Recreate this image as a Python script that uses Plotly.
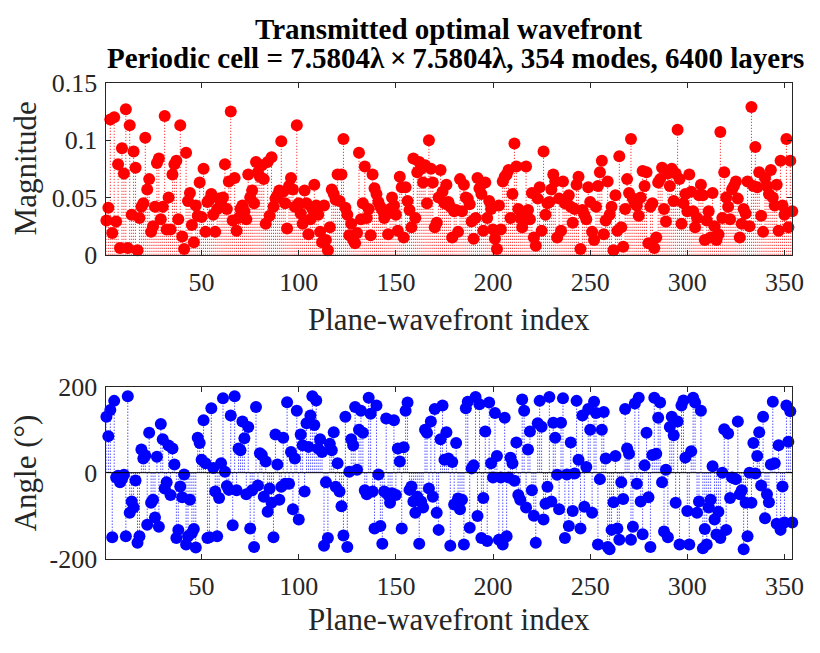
import plotly.graph_objects as go

# ---------------- data ----------------
index = list(range(1, 355))

magnitude = [
    0.030, 0.041, 0.118, 0.019, 0.120, 0.029, 0.079, 0.006, 0.093, 0.071,
    0.127, 0.006, 0.113, 0.035, 0.090, 0.076, 0.004, 0.032, 0.042, 0.045,
    0.102, 0.057, 0.066, 0.020, 0.025, 0.042, 0.080, 0.084, 0.031, 0.042,
    0.121, 0.022, 0.050, 0.022, 0.070, 0.079, 0.082, 0.031, 0.113, 0.016,
    0.005, 0.089, 0.047, 0.054, 0.026, 0.011, 0.043, 0.034, 0.063, 0.033,
    0.075, 0.020, 0.046, 0.048, 0.053, 0.035, 0.020, 0.040, 0.049, 0.045,
    0.050, 0.079, 0.040, 0.064, 0.125, 0.030, 0.067, 0.021, 0.032, 0.040,
    0.043, 0.038, 0.031, 0.070, 0.050, 0.056, 0.045, 0.081, 0.072, 0.068,
    0.078, 0.066, 0.027, 0.081, 0.034, 0.085, 0.042, 0.049, 0.052, 0.056,
    0.099, 0.055, 0.045, 0.023, 0.060, 0.067, 0.057, 0.042, 0.113, 0.045,
    0.036, 0.027, 0.056, 0.045, 0.018, 0.031, 0.040, 0.061, 0.043, 0.035,
    0.020, 0.011, 0.043, 0.013, 0.004, 0.024, 0.057, 0.053, 0.048, 0.070,
    0.047, 0.070, 0.101, 0.041, 0.035, 0.017, 0.027, 0.013, 0.010, 0.019,
    0.089, 0.031, 0.045, 0.077, 0.032, 0.040, 0.017, 0.070, 0.058, 0.053,
    0.046, 0.042, 0.039, 0.032, 0.035, 0.018, 0.040, 0.050, 0.043, 0.035,
    0.021, 0.068, 0.059, 0.015, 0.059, 0.047, 0.039, 0.024, 0.084, 0.032,
    0.072, 0.081, 0.075, 0.063, 0.078, 0.045, 0.100, 0.075, 0.063, 0.024,
    0.028, 0.050, 0.074, 0.055, 0.045, 0.061, 0.046, 0.042, 0.015, 0.038,
    0.039, 0.020, 0.066, 0.038, 0.061, 0.050, 0.049, 0.044, 0.029, 0.014,
    0.032, 0.067, 0.058, 0.053, 0.021, 0.063, 0.032, 0.047, 0.040, 0.022,
    0.014, 0.005, 0.043, 0.022, 0.064, 0.068, 0.070, 0.074, 0.032, 0.053,
    0.097, 0.077, 0.040, 0.032, 0.024, 0.030, 0.077, 0.039, 0.031, 0.054,
    0.015, 0.008, 0.049, 0.059, 0.021, 0.090, 0.035, 0.045, 0.046, 0.057,
    0.070, 0.064, 0.015, 0.049, 0.021, 0.064, 0.045, 0.049, 0.052, 0.042,
    0.028, 0.040, 0.061, 0.068, 0.005, 0.039, 0.035, 0.031, 0.059, 0.046,
    0.020, 0.013, 0.042, 0.060, 0.072, 0.082, 0.018, 0.030, 0.064, 0.035,
    0.042, 0.004, 0.052, 0.021, 0.086, 0.024, 0.007, 0.040, 0.066, 0.054,
    0.101, 0.049, 0.045, 0.043, 0.034, 0.050, 0.073, 0.060, 0.072, 0.010,
    0.042, 0.045, 0.006, 0.015, 0.063, 0.066, 0.076, 0.040, 0.029, 0.071,
    0.060, 0.075, 0.047, 0.071, 0.109, 0.066, 0.027, 0.045, 0.053, 0.038,
    0.070, 0.055, 0.038, 0.024, 0.032, 0.052, 0.061, 0.052, 0.013, 0.030,
    0.038, 0.015, 0.054, 0.025, 0.013, 0.018, 0.107, 0.032, 0.072, 0.050,
    0.042, 0.031, 0.057, 0.060, 0.064, 0.049, 0.015, 0.027, 0.040, 0.036,
    0.064, 0.025, 0.129, 0.060, 0.094, 0.059, 0.072, 0.034, 0.020, 0.067,
    0.060, 0.053, 0.074, 0.050, 0.043, 0.061, 0.021, 0.082, 0.043, 0.035,
    0.101, 0.024, 0.082, 0.038,
]

angle_deg = [
    130, 85, 146, -150, 167, -11, -7, -22, -15, -5,
    -148, 178, -93, -67, -81, -18, -163, -148, 54, 33,
    40, -121, 93, -70, -63, -104, 37, -126, 113, 78,
    -37, -22, 63, -52, 56, 19, -152, -133, -32, -57,
    -4, -167, -148, -63, -140, -131, -174, 81, 69, 30,
    122, 22, -152, -150, 150, 11, -44, -148, -59, 22,
    173, 2, -31, -40, 133, -122, 178, -41, 56, 52,
    119, 80, -50, 106, -130, -41, -173, 153, -30, 45,
    41, -56, 26, -91, -37, -70, -150, 89, 19, -63,
    -33, 81, -26, 164, -26, 48, -85, 33, 144, -109,
    89, 64, -44, 115, 60, 133, 178, 111, 168, 56,
    78, 48, -170, -22, -152, 67, 52, 94, -33, 22,
    -44, -78, -146, 130, -173, 2, 78, 64, 153, 7,
    100, 144, 93, -41, -50, 174, 137, -44, -130, 156,
    -4, -124, -165, -44, 126, -52, -70, -48, 122, -52,
    56, 26, -130, 59, 144, 163, -40, -32, -67, -93,
    -56, -165, -67, -81, 100, 93, -37, 119, -56, 148,
    -93, -133, 78, 156, 30, 94, 33, -170, 25, -74,
    69, -60, -85, -63, -167, 150, 165, -128, 10, 17,
    176, -101, 159, -152, -59, 96, -159, 163, 22, -11,
    139, 39, -156, -11, -167, 128, -148, -11, 35, 22,
    -19, 70, -52, -63, 170, 144, -81, 54, 96, -41,
    -100, -163, 115, 167, 107, -109, -72, -33, 176, -67,
    116, 81, -5, -85, 116, 173, -152, -4, -124, 70,
    -89, -2, 167, 30, -130, 133, -79, 13, 148, 100,
    -93, 165, 139, -167, -15, 100, 141, 33, -173, -178,
    -133, -69, 39, -130, -156, -22, -61, 148, 56, 44,
    -156, -126, 161, -26, 174, -67, -143, 17, 93, -57,
    -173, 41, 174, 44, 128, 163, -22, -137, 7, -150,
    106, 130, 87, -70, 119, -167, 156, 168, 35, -89,
    -167, 50, 174, 163, -93, -67, 144, -176, -131, -167,
    -81, -63, 15, -109, -144, -91, -152, 0, 101, -133,
    91, -59, -11, -13, -15, 119, -50, -41, -178, -70,
    -148, 0, -70, 69, -2, 39, 94, -30, 130, -106,
    -50, -69, 19, 165, 22, -119, 64, -133, -32, -116,
    156, 72, 143, -116,
]

x_ticks = [50, 100, 150, 200, 250, 300, 350]
mag_ticks = [0, 0.05, 0.1, 0.15]
mag_tick_text = ["0", "0.05", "0.1", "0.15"]
ang_ticks = [-200, 0, 200]
ang_tick_text = ["-200", "0", "200"]

title_line1 = "Transmitted optimal wavefront"
title_line2 = "Periodic cell = 7.5804\u03bb\u2009\u00d7\u20097.5804\u03bb, 354 modes, 6400 layers"
x_label = "Plane-wavefront index"
mag_label = "Magnitude"
ang_label = "Angle (\u00b0)"

# ---------------- figure ----------------
W, H = 820, 653
FONT = "Liberation Serif"
AX = "#262626"
RED = "#ff0000"
BLUE = "#0000ff"


def fx(p):
    return p / W


def fy(p):
    return 1 - p / H


def stem_lines(xv, yv, color, xa, ya):
    xs, ys = [], []
    for a, b in zip(xv, yv):
        xs += [a, a, None]
        ys += [0, b, None]
    return go.Scatter(x=xs, y=ys, mode="lines", xaxis=xa, yaxis=ya,
                      line=dict(color=color, width=1, dash="1px,2px"),
                      hoverinfo="skip", showlegend=False)


def stem_heads(xv, yv, color, xa, ya):
    return go.Scatter(x=xv, y=yv, mode="markers", xaxis=xa, yaxis=ya,
                      marker=dict(color=color, size=12, line=dict(width=0)),
                      cliponaxis=False, showlegend=False)


fig = go.Figure()
fig.add_trace(stem_lines(index, magnitude, RED, "x", "y"))
fig.add_trace(stem_heads(index, magnitude, RED, "x", "y"))
fig.add_trace(stem_lines(index, angle_deg, BLUE, "x2", "y2"))
fig.add_trace(stem_heads(index, angle_deg, BLUE, "x2", "y2"))

axis_common = dict(showline=True, linecolor=AX, linewidth=1, mirror="ticks",
                   ticks="inside", ticklen=5, tickwidth=1, tickcolor=AX,
                   showgrid=False, zeroline=False,
                   tickfont=dict(family=FONT, size=26, color=AX))

xdom = [fx(108), fx(804)]
fig.update_layout(
    width=W, height=H,
    margin=dict(l=0, r=0, t=0, b=0),
    paper_bgcolor="white", plot_bgcolor="white",
    xaxis=dict(domain=xdom, anchor="y", range=[1, 354], tickvals=x_ticks,
               ticklabelstandoff=4, **axis_common),
    yaxis=dict(domain=[fy(252), fy(72)], anchor="x", range=[0, 0.15],
               tickvals=mag_ticks, ticktext=mag_tick_text, ticklabelstandoff=3, **axis_common),
    xaxis2=dict(domain=xdom, anchor="y2", range=[1, 354], tickvals=x_ticks,
                ticklabelstandoff=4, **axis_common),
    yaxis2=dict(domain=[fy(570), fy(390)], anchor="x2", range=[-200, 200],
                tickvals=ang_ticks, ticktext=ang_tick_text, ticklabelstandoff=3, **axis_common),
    showlegend=False,
)

# baseline of the angle stems
fig.add_shape(type="line", xref="x2 domain", x0=0, x1=1, yref="y2", y0=0, y1=0,
              line=dict(color="#000000", width=1), layer="above")

ann = []
ann.append(dict(text="<b>%s</b>" % title_line1, x=fx(456), y=fy(16)))
ann.append(dict(text="<b>%s</b>" % title_line2, x=fx(462), y=fy(46)))
ann.append(dict(text=x_label, x=fx(456), y=fy(320), size=31))
ann.append(dict(text=x_label, x=fx(456), y=fy(634), size=31))
ann.append(dict(text=mag_label, x=fx(26), y=fy(162), size=31, angle=-90))
ann.append(dict(text=ang_label, x=fx(26), y=fy(480), size=31, angle=-90))
for a in ann:
    fig.add_annotation(text=a["text"], x=a["x"], y=a["y"], xref="paper", yref="paper",
                       xanchor="center", yanchor="middle", showarrow=False,
                       textangle=a.get("angle", 0),
                       font=dict(family=FONT, size=a.get("size", 29),
                                 color="#000000" if "size" not in a else AX))

fig.write_html("out.html")
